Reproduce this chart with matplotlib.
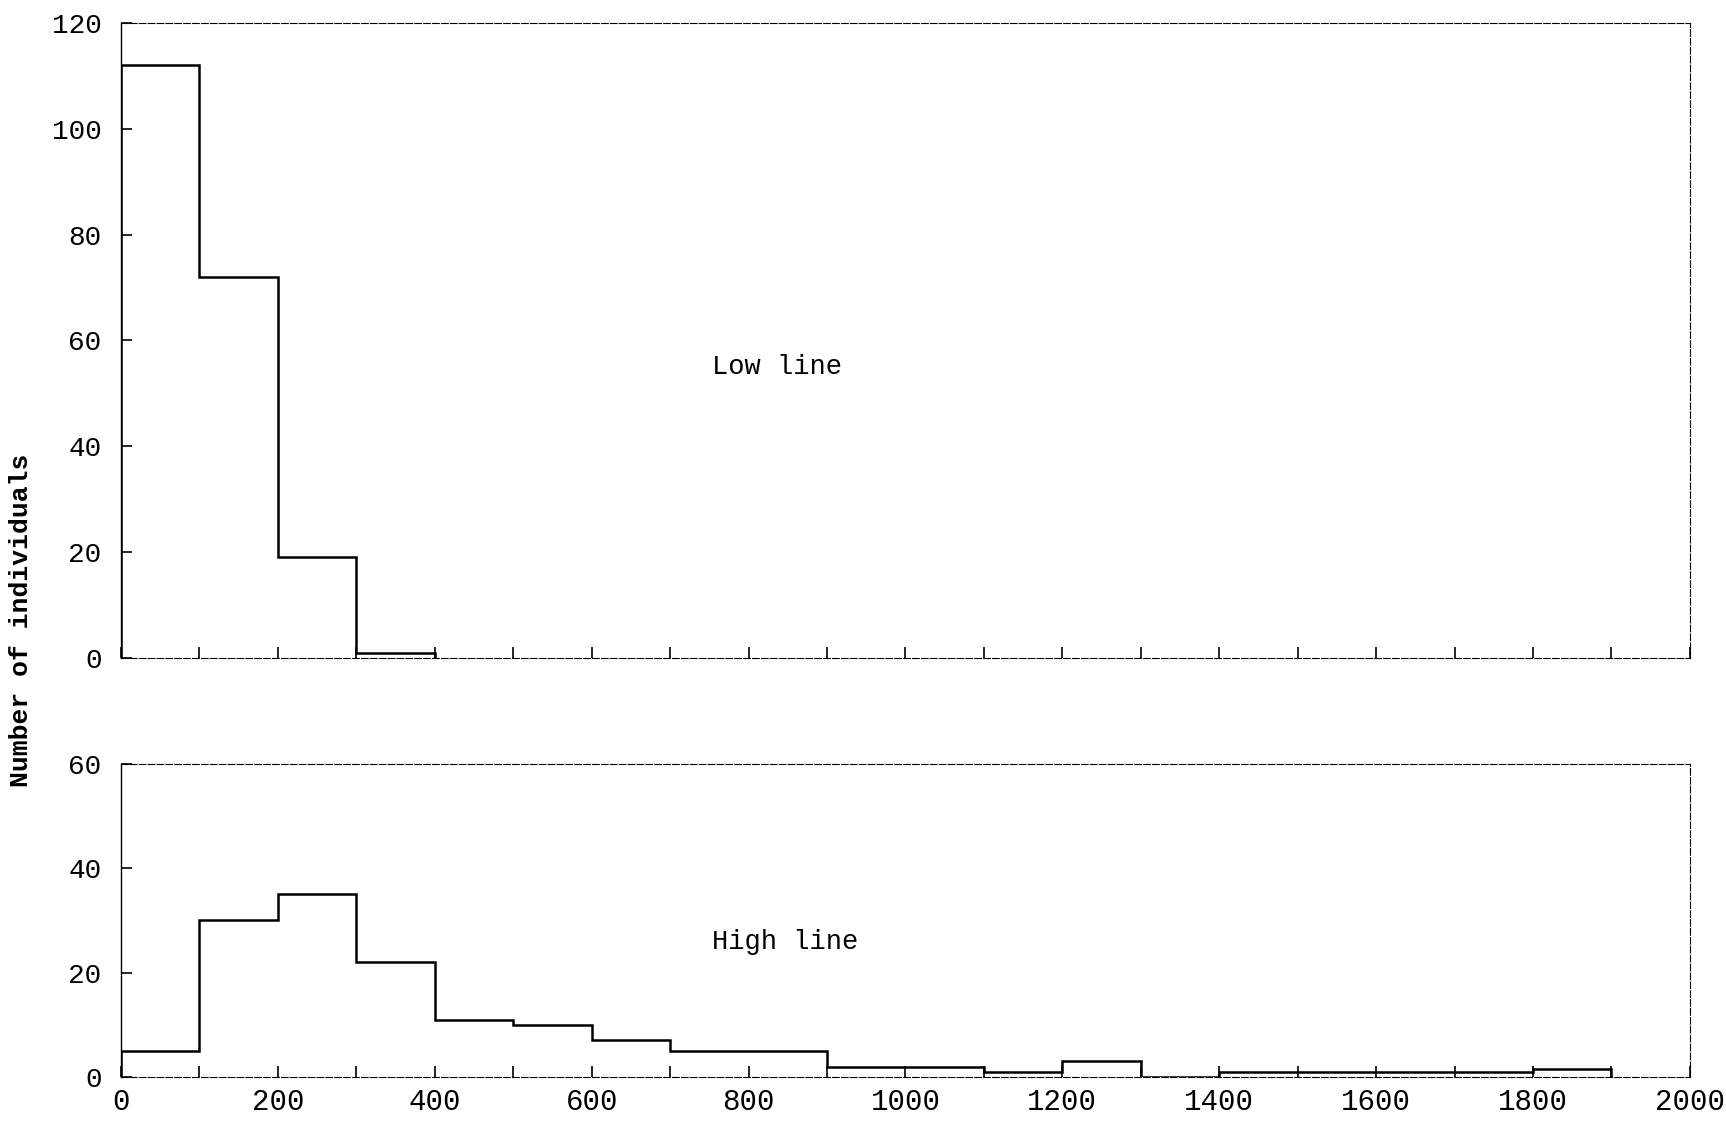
import numpy as np
from matplotlib import pyplot as plt

plt.rcParams.update({
  "font.family": ['Liberation Mono', 'DejaVu Sans Mono'],
  "xtick.direction": 'in',
  "ytick.direction": 'in',
})

# class width 100, counts
low_edges = np.arange(0, 500, 100)
low_counts = [112, 72, 19, 1]

high_edges = np.arange(0, 2000, 100)
high_counts = [5, 30, 35, 22, 11, 10, 7, 5, 5, 2, 2, 1, 3, 0, 1, 1, 1, 1, 1.5]

fig = plt.figure(figsize=(17.26, 11.23), dpi=100)
ax1 = fig.add_axes([0.0701, 0.4141, 0.909, 0.5654])
ax2 = fig.add_axes([0.0701, 0.0410, 0.909, 0.2787])

for ax in (ax1, ax2):
  ax.set_xlim(0, 2000)
  ax.set_xticks(np.arange(0, 2001, 100), minor=True)
  ax.set_xticks(np.arange(0, 2001, 200))
  ax.tick_params(which='both', length=8, width=1.2, top=False, right=False)
  ax.tick_params(axis='y', labelsize=20, pad=14)
  ax.tick_params(axis='x', labelsize=21, pad=8)
  for s in ('top', 'right', 'bottom'):
    ax.spines[s].set_linestyle((0, (6, 2)))
    ax.spines[s].set_linewidth(0.8)
  ax.spines['left'].set_linewidth(1.0)

ax1.stairs(low_counts, low_edges, baseline=0, color='black', lw=1.8)
ax1.set_ylim(0, 120)
ax1.set_yticks(np.arange(0, 121, 20))
ax1.tick_params(labelbottom=False)
ax1.text(836, 55, "Low line", fontsize=19.5, ha='center', va='center')

ax2.stairs(high_counts, high_edges, baseline=0, color='black', lw=1.8)
ax2.set_ylim(0, 60)
ax2.set_yticks(np.arange(0, 61, 20))
ax2.text(846, 25.8, "High line", fontsize=19.5, ha='center', va='center')

fig.text(0.012, 0.448, "Number of individuals", rotation=90, fontsize=19,
         fontweight='bold', ha='center', va='center')

fig.savefig('out.png', dpi=100)
